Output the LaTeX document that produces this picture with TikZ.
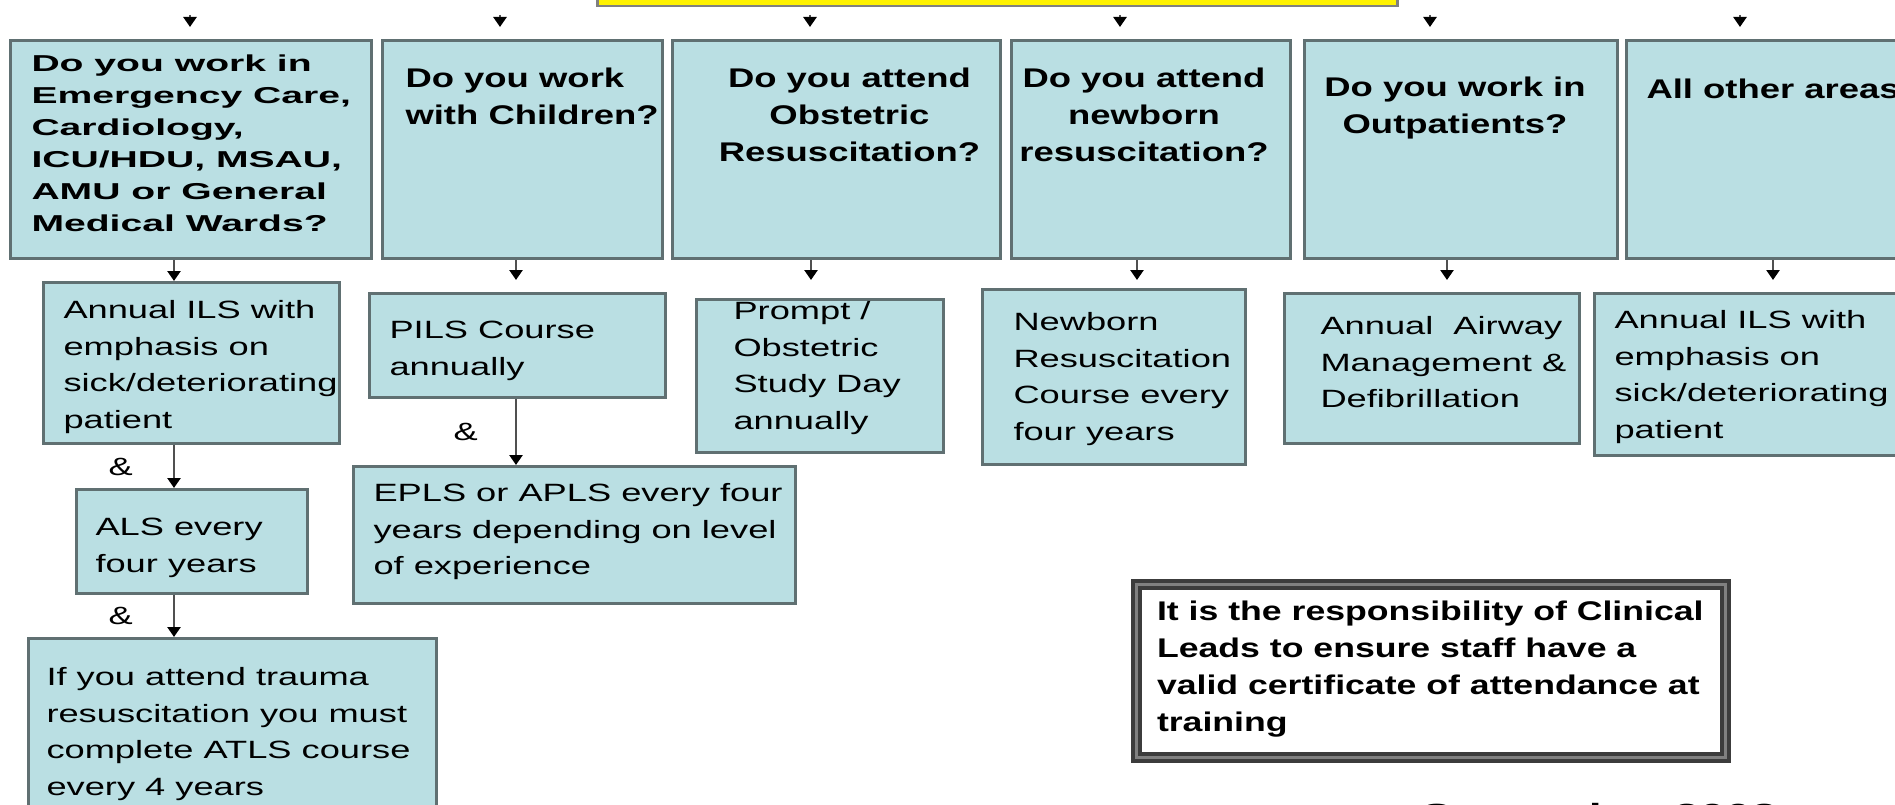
\documentclass[tikz,border=0pt]{standalone}
\usepackage{fontspec}
\setmainfont{Liberation Sans}[FakeStretch=1.45]
\newfontfamily\qfont{Liberation Sans}[FakeStretch=1.35]
\newfontfamily\qfontw{Liberation Sans}[FakeStretch=1.7]
\newfontfamily\notefont{Liberation Sans}[FakeStretch=1.32]
\usetikzlibrary{arrows.meta}

\definecolor{boxfill}{RGB}{186,223,227}
\definecolor{boxline}{RGB}{96,112,114}
\definecolor{wire}{RGB}{80,80,80}
\definecolor{bannerline}{RGB}{128,128,128}
\definecolor{noteline}{RGB}{60,60,60}

\tikzset{
	qbox/.style={draw=boxline, fill=boxfill, line width=3pt, inner sep=0pt, anchor=north west,
		font=\qfont\bfseries\fontsize{27}{37}\selectfont},
	cbox/.style={draw=boxline, fill=boxfill, line width=3pt, inner sep=0pt, anchor=north west,
		font=\fontsize{25}{36.5}\selectfont},
	banner/.style={draw=bannerline, fill=yellow, line width=2.5pt, inner sep=0pt, anchor=north west,
		minimum width=800pt, minimum height=45pt},
	notebox/.style={draw=noteline, double=gray, double distance=3pt, line width=4pt, fill=white,
		inner sep=0pt, anchor=north west, font=\notefont\bfseries\fontsize{27}{37}\selectfont},
	wire/.style={draw=wire, line width=2.5pt, -{Triangle[width=13pt,length=10pt,color=black]}},
	amp/.style={black, inner sep=0pt, font=\fontsize{25}{30}\selectfont},
}

\begin{document}
\begin{tikzpicture}[x=1pt, y=-1pt]
	\useasboundingbox (0,0) rectangle (1895,805);
	\clip (0,0) rectangle (1895,805);

	% banner (cut at the top)
	\node [banner] (banner) at (596,-40) {};

	% arrows coming down from the banner
	\foreach \x [count=\i] in {190,500,810,1120,1430,1740} {
		\coordinate (in\i) at (\x,15);
		\draw [wire] (in\i) -- ++(0,12);
	}

	% questions
	\node [qbox] (q1) at (9,39) {\parbox[t][218pt][t]{361pt}{\qfontw\bfseries\fontsize{23}{32}\selectfont
		\raggedright\leftskip=21pt\relax\vspace*{14pt}Do you work in\\ Emergency Care,\\ Cardiology,\\
		ICU/HDU, MSAU,\\ AMU or General\\ Medical Wards?}};
	\node [qbox] (q2) at (381,39) {\parbox[t][218pt][t]{280pt}{\raggedright\leftskip=23pt\relax
		\vspace*{27pt}Do you work\\ with Children?}};
	\node [qbox] (q3) at (671,39) {\parbox[t][218pt][t]{328pt}{\centering\leftskip=26pt plus 1fil\relax
		\vspace*{27pt}Do you attend\\ Obstetric\\ Resuscitation?}};
	\node [qbox] (q4) at (1010,39) {\parbox[t][218pt][t]{279pt}{\centering\rightskip=14pt plus 1fil\relax
		\vspace*{27pt}Do you attend\\ newborn\\ resuscitation?}};
	\node [qbox] (q5) at (1303,39) {\parbox[t][218pt][t]{313pt}{\centering\rightskip=12pt plus 1fil\relax
		\vspace*{36pt}Do you work in\\ Outpatients?}};
	\node [qbox] (q6) at (1625,39) {\parbox[t][218pt][t]{300pt}{\raggedright\leftskip=20pt\relax
		\vspace*{38pt}All other areas}};

	% courses
	\node [cbox] (ils1) at (42,281) {\parbox[t][161pt][t]{296pt}{\raggedright\leftskip=20pt\relax
		\vspace*{18pt}Annual ILS with\\ emphasis on\\ sick/deteriorating\\ patient}};
	\node [cbox] (als) at (75,488) {\parbox[t][104pt][t]{231pt}{\raggedright\leftskip=19pt\relax
		\vspace*{29pt}ALS every\\ four years}};
	\node [cbox] (trauma) at (27,637) {\parbox[t][193pt][t]{408pt}{\raggedright\leftskip=18pt\relax
		\vspace*{29pt}If you attend trauma\\ resuscitation you must\\ complete ATLS course\\ every 4 years}};
	\node [cbox] (pils) at (368,292) {\parbox[t][104pt][t]{296pt}{\raggedright\leftskip=20pt\relax
		\vspace*{28pt}PILS Course\\ annually}};
	\node [cbox] (epls) at (352,465) {\parbox[t][137pt][t]{442pt}{\raggedright\leftskip=20pt\relax
		\vspace*{17pt}EPLS or APLS every four\\ years depending on level\\ of experience}};
	\node [cbox] (prompt) at (695,298) {\parbox[t][153pt][t]{247pt}{\raggedright\leftskip=37pt\relax
		\vspace*{2pt}Prompt /\\ Obstetric\\ Study Day\\ annually}};
	\node [cbox] (newborn) at (981,288) {\parbox[t][175pt][t]{263pt}{\raggedright\leftskip=31pt\relax
		\vspace*{23pt}Newborn\\ Resuscitation\\ Course every\\ four years}};
	\node [cbox] (airway) at (1283,292) {\parbox[t][150pt][t]{295pt}{\raggedright\leftskip=36pt\relax
		\vspace*{23pt}Annual\ \ Airway\\ Management \&\\ Defibrillation}};
	\node [cbox] (ils6) at (1593,292) {\parbox[t][162pt][t]{327pt}{\raggedright\leftskip=20pt\relax
		\vspace*{17pt}Annual ILS with\\ emphasis on\\ sick/deteriorating\\ patient}};

	% note
	\node [notebox] (note) at (1134.5,582.5) {\parbox[t][173pt][t]{589pt}{\raggedright\leftskip=20.5pt\relax
		\vspace*{16pt}It is the responsibility of Clinical\\ Leads to ensure staff have a\\
		valid certificate of attendance at\\ training}};

	% date (cut at the bottom)
	\node [anchor=base west, inner sep=0pt, font=\bfseries\fontsize{32}{38}\selectfont] (date) at (1421,826) {September 2008};

	% question to course
	\coordinate (e2) at (516,280);
	\coordinate (e3) at (811,280);
	\coordinate (e4) at (1137,280);
	\coordinate (e5) at (1447,280);
	\coordinate (e6) at (1773,280);
	\draw [wire] (q1.south -| 174,0) -- (ils1.north -| 174,0);
	\draw [wire] (q2.south -| e2) -- (e2);
	\draw [wire] (q3.south -| e3) -- (e3);
	\draw [wire] (q4.south -| e4) -- (e4);
	\draw [wire] (q5.south -| e5) -- (e5);
	\draw [wire] (q6.south -| e6) -- (e6);

	% further courses
	\draw [wire] (ils1.south -| 174,0) -- (als.north -| 174,0)
	node [amp, midway, left=40pt] {\&};
	\draw [wire] (als.south -| 174,0) -- (trauma.north -| 174,0)
	node [amp, midway, left=40pt] {\&};
	\draw [wire] (pils.south -| e2) -- (epls.north -| e2)
	node [amp, midway, left=37pt] {\&};
\end{tikzpicture}
\end{document}
